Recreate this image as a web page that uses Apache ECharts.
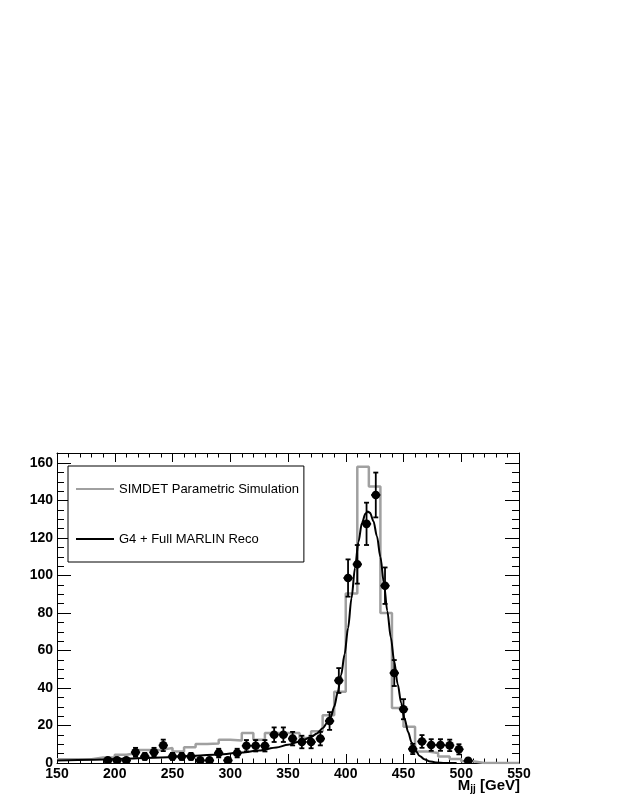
<!DOCTYPE html>
<html>
<head>
<meta charset="utf-8">
<title>Mjj</title>
<script src="https://cdn.jsdelivr.net/npm/echarts@6/dist/echarts.min.js"></script>
<style>
  html, body { margin: 0; padding: 0; background: #fff; }
  #main { width: 623px; height: 806px; }
</style>
</head>
<body>
<div id="main"></div>
<script>
// full sim points, 8 GeV bins (centres) with counts
var dataCenters = [194, 202, 210, 218, 226, 234, 242, 250, 258, 266,
                   274, 282, 290, 298, 306, 314, 322, 330, 338, 346,
                   354, 362, 370, 378, 386, 394, 402, 410, 418, 426,
                   434, 442, 450, 458, 466, 474, 482, 490, 498, 506];
var dataCounts = [1.4, 1.4, 1.4, 5.7, 3.5, 5.7, 9.4, 3.5, 3.5, 3.5,
                  1.4, 1.4, 5.3, 1.4, 5.3, 9.2, 9.2, 9.2, 15.1, 15.1,
                  13, 11.2, 11.2, 13, 22.4, 44, 98.7, 106, 127.6, 143,
                  94.6, 48, 28.7, 7.5, 11.5, 9.6, 9.6, 9.4, 7.3, 1.2];
var binHalfWidth = 4;

// SIMDET histogram, 10 GeV bins (left edges)
var simEdges = [150, 160, 170, 180, 190, 200, 210, 220, 230, 240,
                250, 260, 270, 280, 290, 300, 310, 320, 330, 340,
                350, 360, 370, 380, 390, 400, 410, 420, 430, 440,
                450, 460, 470, 480, 490, 500, 510, 520, 530, 540];
var simValues = [2, 2, 2, 3, 3, 4.4, 5.3, 7, 7, 8,
                 6.2, 8.4, 10.2, 10.4, 12.4, 12, 16, 12.4, 16, 16,
                 16, 13.3, 17, 25.5, 38, 90.5, 158, 147.5, 80, 29.3,
                 19.4, 6.2, 5.3, 3.5, 2.1, 0.9, 0, 0, 0, 0];
var simLastEdge = 550;

// fitted curve on the full sim points
var fitX = [150, 180, 210, 240, 270, 290, 310, 325, 340, 350, 360, 370, 375, 380, 384, 387,
            390, 393, 396, 399, 402, 405, 408, 411, 414, 417, 419, 421, 424, 427, 430,
            433, 436, 439, 442, 445, 448, 451, 454, 457, 460, 464, 468, 472, 478, 486, 496];
var fitY = [1.4, 1.8, 2.3, 3.0, 3.9, 4.6, 5.6, 6.7, 8.3, 9.7, 11.5, 13.8, 15.8, 18.5, 21.5, 24.5,
            30, 37.5, 47, 58, 72, 88, 104, 118, 128, 133, 134.2, 133.5, 129, 121, 110,
            96, 81, 67, 54, 42, 32, 23.5, 16.5, 11, 7, 3.8, 2, 1, 0.3, 0.05, 0];

var xMin = 150, xMax = 550, xStep = 50;
var yMin = 0, yMax = 165.4, yStep = 20;

var simName = 'SIMDET Parametric Simulation';
var fitName = 'G4 + Full MARLIN Reco';

var simData = simEdges.map(function (e, i) { return [e, simValues[i]]; });
simData.push([simLastEdge, simValues[simValues.length - 1]]);

var fitData = fitX.map(function (x, i) { return [x, fitY[i]]; });

var pointData = dataCenters.map(function (c, i) {
    return [c, dataCounts[i], Math.sqrt(dataCounts[i])];
});

function renderPoint(params, api) {
    var x = api.value(0), y = api.value(1), e = api.value(2);
    var p = api.coord([x, y]);
    var l = api.coord([x - binHalfWidth, y]);
    var r = api.coord([x + binHalfWidth, y]);
    var t = api.coord([x, y + e]);
    var b = api.coord([x, Math.max(y - e, 0)]);
    var st = { stroke: '#000', lineWidth: 1.8 };
    var cap = 2.5;
    return {
        type: 'group',
        children: [
            { type: 'line', shape: { x1: l[0], y1: l[1], x2: r[0], y2: r[1] }, style: st },
            { type: 'line', shape: { x1: t[0], y1: t[1], x2: b[0], y2: b[1] }, style: st },
            { type: 'line', shape: { x1: t[0] - cap, y1: t[1], x2: t[0] + cap, y2: t[1] }, style: st },
            { type: 'line', shape: { x1: b[0] - cap, y1: b[1], x2: b[0] + cap, y2: b[1] }, style: st },
            { type: 'circle', shape: { cx: p[0], cy: p[1], r: 4.3 }, style: { fill: '#000' } }
        ]
    };
}

var labelFont = { color: '#000', fontSize: 14, fontWeight: 'bold', fontFamily: 'Liberation Sans' };

function xAxisCfg(pos, showLabel) {
    return {
        type: 'value', position: pos, min: xMin, max: xMax, interval: xStep,
        axisLine: { show: true, onZero: false, lineStyle: { color: '#000', width: 1 } },
        axisTick: { show: true, inside: true, length: 9, lineStyle: { color: '#000' } },
        minorTick: { show: true, splitNumber: 5, length: 4.5, lineStyle: { color: '#000' } },
        axisLabel: Object.assign({ show: showLabel, margin: 4 }, labelFont),
        splitLine: { show: false }
    };
}
function yAxisCfg(pos, showLabel) {
    return {
        type: 'value', position: pos, min: yMin, max: yMax, interval: yStep,
        axisLine: { show: true, onZero: false, lineStyle: { color: '#000', width: 1 } },
        axisTick: { show: true, inside: true, length: 14, lineStyle: { color: '#000' } },
        minorTick: { show: true, splitNumber: 4, length: 7, lineStyle: { color: '#000' } },
        axisLabel: Object.assign({
            show: showLabel, margin: 4,
            formatter: function (v) { return v % yStep === 0 ? String(v) : ''; }
        }, labelFont),
        splitLine: { show: false }
    };
}

var myChart = echarts.init(document.getElementById('main'));

var option = {
    backgroundColor: '#fff',
    animation: false,
    grid: { left: 57, top: 453, width: 462, height: 310, show: false },
    xAxis: [xAxisCfg('bottom', true), xAxisCfg('top', false)],
    yAxis: [yAxisCfg('left', true), yAxisCfg('right', false)],
    legend: {
        data: [simName, fitName],
        orient: 'vertical',
        left: 68, top: 466,
        padding: [16, 5, 16, 8],
        itemGap: 36, itemWidth: 38, itemHeight: 2,
        icon: 'rect',
        borderColor: '#000', borderWidth: 1, borderRadius: 0,
        backgroundColor: '#fff',
        selectedMode: false,
        textStyle: { fontSize: 13, color: '#000', fontFamily: 'Liberation Sans', lineHeight: 14 }
    },
    graphic: [{
        type: 'text', right: 103, top: 778,
        style: {
            text: '{a|M}{s|jj}{a| [GeV]}',
            fill: '#000',
            rich: {
                a: { fontSize: 15, fontWeight: 'bold', fontFamily: 'Liberation Sans', lineHeight: 16, verticalAlign: 'top' },
                s: { fontSize: 10, fontWeight: 'bold', fontFamily: 'Liberation Sans', lineHeight: 10, verticalAlign: 'bottom' }
            }
        }
    }],
    series: [
        {
            name: simName, type: 'line', step: 'end', symbol: 'none',
            data: simData, z: 2,
            lineStyle: { color: '#a0a0a0', width: 2.5 },
            itemStyle: { color: '#a0a0a0' }
        },
        {
            name: fitName, type: 'line', symbol: 'none', smooth: 0.3, smoothMonotone: 'x',
            data: fitData, z: 3,
            lineStyle: { color: '#000', width: 2 },
            itemStyle: { color: '#000' }
        },
        {
            name: 'points', type: 'custom', renderItem: renderPoint,
            data: pointData, z: 4, clip: true,
            encode: { x: 0, y: 1 }
        }
    ]
};

myChart.setOption(option);
</script>
</body>
</html>
